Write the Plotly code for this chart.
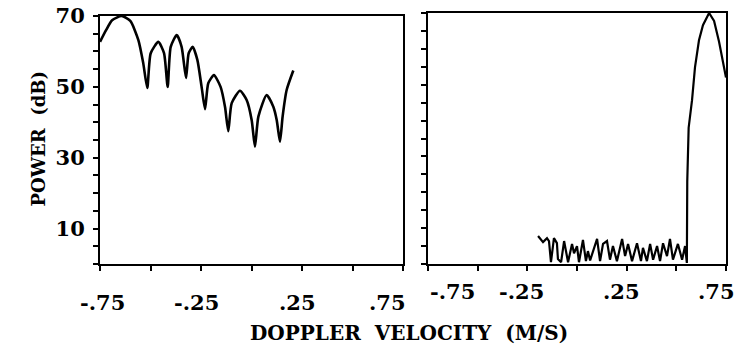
import plotly.graph_objects as go

# Doppler spectrum, left panel: sidelobe structure of the clutter filter response
left_vel = [-0.750, -0.720, -0.690, -0.643, -0.600, -0.560, -0.536, -0.516, -0.499, -0.461,
            -0.433, -0.415, -0.400, -0.370, -0.346, -0.324, -0.311, -0.291, -0.268,
            -0.247, -0.230, -0.214, -0.186, -0.153, -0.131, -0.115, -0.098, -0.057,
            -0.024, 0.001, 0.017, 0.034, 0.075, 0.108, 0.125, 0.141, 0.154, 0.174, 0.207]
left_pow = [62.7, 66.0, 68.8, 70.0, 68.6, 63.2, 56.7, 49.7, 59.5, 62.7,
            59.5, 50.0, 61.3, 64.6, 61.3, 52.5, 59.5, 61.3, 57.6,
            50.0, 43.7, 51.0, 53.3, 50.0, 44.3, 37.5, 45.4, 48.9,
            46.3, 40.6, 33.1, 41.6, 47.7, 44.4, 40.6, 34.5, 41.6, 49.1, 54.6]

# Right panel: noise floor followed by the main lobe near +0.66 m/s
right_vel = [-0.196, -0.171, -0.151, -0.141, -0.131, -0.116, -0.101, -0.096, -0.080,
             -0.065, -0.045, -0.025, -0.015, 0.000, 0.010, 0.030, 0.045, 0.055, 0.066,
             0.101, 0.116, 0.131, 0.151, 0.166, 0.181, 0.201, 0.227, 0.242, 0.257,
             0.277, 0.302, 0.322, 0.332, 0.352, 0.368, 0.383, 0.403, 0.418, 0.433,
             0.453, 0.468, 0.483, 0.508, 0.529, 0.544, 0.553,
             0.555, 0.562, 0.579, 0.594, 0.614, 0.634, 0.665, 0.690, 0.715, 0.735, 0.750]
right_pow = [7.8, 6.1, 7.2, 6.4, 0.5, 7.2, 5.8, 1.4, 0.5,
             6.4, 0.5, 5.6, 3.0, 5.0, 0.5, 6.7, 0.8, 3.6, 1.0,
             7.0, 0.8, 5.6, 6.4, 1.2, 5.0, 0.8, 7.0, 2.2, 5.6,
             0.8, 5.8, 0.8, 4.5, 0.8, 5.6, 1.2, 5.0, 0.8, 5.8,
             2.2, 7.0, 1.2, 5.6, 1.2, 5.0, 0.3,
             23.0, 38.0, 45.7, 54.9, 62.4, 66.6, 70.0, 67.8, 62.0, 56.5, 52.0]

x_ticks = [-0.75, -0.5, -0.25, 0.0, 0.25, 0.5, 0.75]
x_label_vals = [-0.75, -0.25, 0.25, 0.75]
x_label_text = ["-.75", "-.25", ".25", ".75"]
y_ticks = list(range(0, 75, 5))
y_label_vals = [10, 30, 50, 70]

W, H = 736, 349
FONT = "DejaVu Serif"

fig = go.Figure()
fig.add_trace(go.Scatter(x=left_vel, y=left_pow, mode="lines",
                         line=dict(color="black", width=2.6, shape="spline", smoothing=0.6),
                         xaxis="x", yaxis="y", showlegend=False, hoverinfo="skip"))
fig.add_trace(go.Scatter(x=right_vel, y=right_pow, mode="lines",
                         line=dict(color="black", width=2.2),
                         xaxis="x2", yaxis="y2", showlegend=False, hoverinfo="skip"))


def px_x(p):
    return p / W


def px_y(p):
    return 1 - p / H


axis_common = dict(showline=True, linecolor="black", linewidth=2, mirror=True,
                   showgrid=False, zeroline=False, ticks="outside", ticklen=5,
                   tickwidth=2, tickcolor="black", automargin=False)

fig.update_layout(
    template="none",
    width=W, height=H,
    margin=dict(l=0, r=0, t=0, b=0, pad=0),
    paper_bgcolor="white", plot_bgcolor="white",
    xaxis=dict(domain=[px_x(100), px_x(403)], range=[-0.75, 0.75],
               tickvals=x_ticks, showticklabels=False, anchor="y", **axis_common),
    yaxis=dict(domain=[px_y(264), px_y(16)], range=[0, 70], anchor="x",
               tickvals=y_ticks,
               ticktext=[str(v) if v in y_label_vals else "" for v in y_ticks],
               tickfont=dict(family=FONT, size=21, color="black", weight="bold"),
               ticklabelstandoff=4, **axis_common),
    xaxis2=dict(domain=[px_x(428), px_x(726)], range=[-0.75, 0.75],
                tickvals=x_ticks, showticklabels=False, anchor="y2", **axis_common),
    yaxis2=dict(domain=[px_y(264), px_y(13)], range=[0, 70], anchor="x2",
                tickvals=y_ticks, showticklabels=False, **axis_common),
)

# x tick labels, nudged so neighbouring panels' end labels do not collide
left_shift = [2, -5, -5, -16]
right_shift = [24, -6, -5, -10]
for v, t, s in zip(x_label_vals, x_label_text, left_shift):
    fig.add_annotation(x=v, xref="x", y=px_y(302), yref="paper", text=t,
                       showarrow=False, xshift=s, yanchor="middle",
                       font=dict(family=FONT, size=21, color="black", weight="bold"))
for v, t, s in zip(x_label_vals, x_label_text, right_shift):
    fig.add_annotation(x=v, xref="x2", y=px_y(291), yref="paper", text=t,
                       showarrow=False, xshift=s, yanchor="middle",
                       font=dict(family=FONT, size=21, color="black", weight="bold"))

fig.add_annotation(x=px_x(409), y=px_y(333), xref="paper", yref="paper",
                   text="DOPPLER  VELOCITY  (M/S)", showarrow=False, yanchor="middle",
                   font=dict(family=FONT, size=20, color="black", weight="bold"))
fig.add_annotation(x=px_x(25), y=px_y(139), xref="paper", yref="paper",
                   text="POWER  (dB)", showarrow=False, textangle=-90,
                   font=dict(family=FONT, size=18, color="black", weight="bold"))

fig.write_html("out.html")
